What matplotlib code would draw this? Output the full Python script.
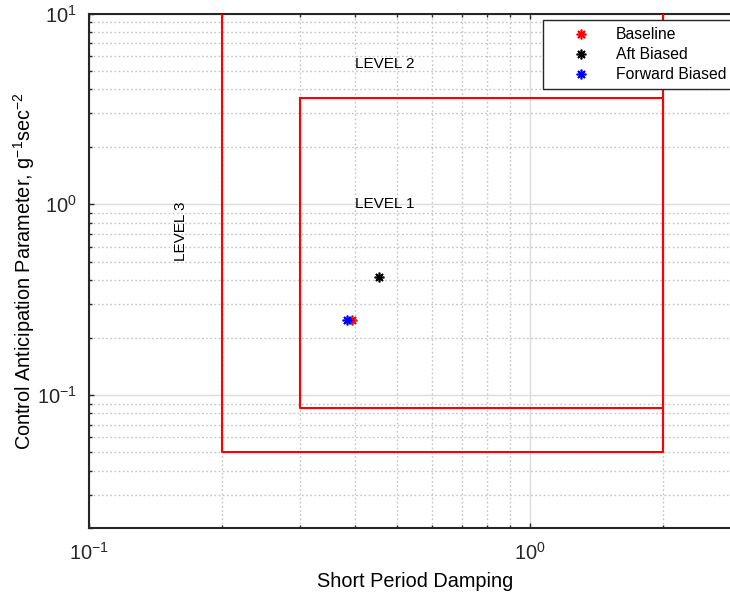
import matplotlib
matplotlib.use('Agg')
import matplotlib.pyplot as plt
from matplotlib.ticker import LogLocator, NullFormatter

plt.rcParams['font.family'] = ['Liberation Sans', 'DejaVu Sans']
plt.rcParams['mathtext.fontset'] = 'custom'
plt.rcParams['mathtext.rm'] = 'Liberation Sans'
plt.rcParams['mathtext.it'] = 'Liberation Sans:italic'

# flight condition points (damping, CAP)
names = ['Baseline', 'Aft Biased', 'Forward Biased']
colors = ['red', 'black', 'blue']
damping = [0.395, 0.455, 0.384]
cap = [0.247, 0.418, 0.248]

# level boundaries
level1_x = [0.3, 2.0, 2.0, 0.3, 0.3]
level1_y = [3.6, 3.6, 0.085, 0.085, 3.6]
level2_x = [0.2, 0.2, 2.0, 2.0]
level2_y = [20.0, 0.05, 0.05, 20.0]

fig = plt.figure(figsize=(7.3, 5.97), dpi=100)
ax = fig.add_axes([89.3 / 730, 1 - 528.3 / 597, (740.3 - 89.3) / 730, (528.3 - 13.6) / 597])
ax.set_xscale('log')
ax.set_yscale('log')
ax.set_xlim(0.1, 3)
ax.set_ylim(0.02, 10)

ax.plot(level1_x, level1_y, color='red', lw=1.5, zorder=3)
ax.plot(level2_x, level2_y, color='red', lw=1.5, zorder=3)

for n, c, x, y in zip(names, colors, damping, cap):
    ax.plot(x, y, linestyle='none', marker=(8, 2, 0), color=c, markersize=7,
            markeredgewidth=1.2, label=n, zorder=4)

ax.text(0.40, 1.0, 'LEVEL 1', fontsize=11, va='center', ha='left')
ax.text(0.40, 5.45, 'LEVEL 2', fontsize=11, va='center', ha='left')
ax.text(0.1615, 0.724, 'LEVEL 3', fontsize=11, va='center', ha='center', rotation=90)

ax.xaxis.set_minor_locator(LogLocator(base=10, subs=range(2, 10)))
ax.yaxis.set_minor_locator(LogLocator(base=10, subs=range(2, 10)))
ax.xaxis.set_minor_formatter(NullFormatter())
ax.yaxis.set_minor_formatter(NullFormatter())

ax.grid(True, which='major', color='#dcdcdc', lw=1.0, ls='-')
ax.grid(True, which='minor', color='#c4c4c4', lw=1.0, ls=(0, (1.2, 1.8)))
ax.set_axisbelow(True)

ax.tick_params(which='both', direction='in', top=True, right=True, colors='#262626',
               labelsize=14.5, width=1.0)
ax.tick_params(axis='x', which='major', length=3.5, pad=10)
ax.tick_params(axis='y', which='major', length=3.5, pad=9)
ax.tick_params(which='minor', length=2.2)
for s in ax.spines.values():
    s.set_linewidth(1.5)
    s.set_color('#262626')

ax.set_xlabel('Short Period Damping', fontsize=14.3, labelpad=6)
ax.set_ylabel('Control Anticipation Parameter, g$^{-1}$sec$^{-2}$', fontsize=14.3)
ax.yaxis.set_label_coords(-0.080, 0.5)

leg = ax.legend(loc='upper left', bbox_to_anchor=(543 / 730, 1 - 20 / 597),
                bbox_transform=fig.transFigure, borderaxespad=0, fontsize=11.3,
                handlelength=4.0, handletextpad=0.2, borderpad=0.45, labelspacing=0.33,
                fancybox=False, framealpha=1, edgecolor='#262626')
leg.get_frame().set_linewidth(1.0)

fig.savefig('out.png', dpi=100)
